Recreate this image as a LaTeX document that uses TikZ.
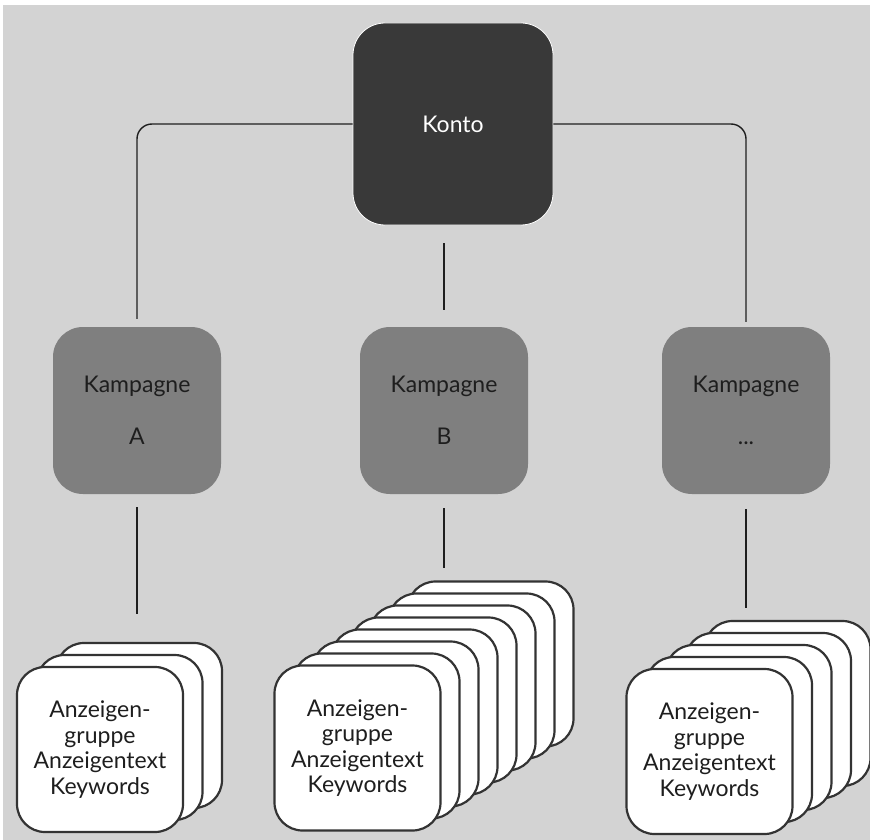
\documentclass[tikz,border=0pt]{standalone}
\usepackage{fontspec}
\setmainfont{Lato}
\usepackage{tikz}
\definecolor{backgrey}{HTML}{D3D3D3}
\definecolor{kontogrey}{HTML}{393939}
\definecolor{kampgrey}{HTML}{7F7F7F}
\definecolor{inkgrey}{HTML}{1E1E1E}
\definecolor{cardline}{HTML}{333333}

\begin{document}
\begin{tikzpicture}
      [ x = 1pt, y = -1pt
      , every node/.style =
        { font = \fontsize{23}{25.5}\selectfont }
      , konto/.style =
        { rectangle, rounded corners = 32pt, fill = kontogrey, draw = white
        , line width = .8pt, minimum width = 200pt, minimum height = 202pt
        , text = white }
      , kampagne/.style =
        { rectangle, rounded corners = 30pt, fill = kampgrey
        , minimum width = 168pt, minimum height = 167pt
        , text = inkgrey, align = center }
      , card/.style =
        { rectangle, rounded corners = 28pt, fill = white, draw = cardline
        , line width = 2.2pt, minimum width = 166pt, minimum height = 165pt
        , text = inkgrey, align = center }
      , link/.style =
        { draw = inkgrey, line width = 1.4pt, rounded corners = 15pt }
      ]
      \useasboundingbox (0, 0) rectangle (870, 840);
      \fill [backgrey] (3, 5) rectangle (870, 840);
      \node [konto] (konto) at (453, 124) {Konto};
      \node [kampagne] (kampA) at (137, 410.5) {Kampagne\\[27pt]A};
      \node [kampagne] (kampB) at (444, 410.5) {Kampagne\\[27pt]B};
      \node [kampagne] (kampC) at (746, 410.5) {Kampagne\\[27pt]...};
      \node [card] (a3) at (139, 725.5) {};
      \node [card] (a2) at (119.5, 737.5) {};
      \node [card] (a1) at (100, 749.5) {Anzeigen-\\gruppe\\Anzeigentext\\Keywords};
      \node [card] (b8) at (490.5, 664) {};
      \node [card] (b7) at (471.5, 676) {};
      \node [card] (b6) at (452.5, 688) {};
      \node [card] (b5) at (433.5, 700) {};
      \node [card] (b4) at (414.5, 712) {};
      \node [card] (b3) at (395.5, 724) {};
      \node [card] (b2) at (376.5, 736) {};
      \node [card] (b1) at (357.5, 748) {Anzeigen-\\gruppe\\Anzeigentext\\Keywords};
      \node [card] (c5) at (787.5, 703.5) {};
      \node [card] (c4) at (768, 715.5) {};
      \node [card] (c3) at (748.5, 727.5) {};
      \node [card] (c2) at (729, 739.5) {};
      \node [card] (c1) at (709.5, 751.5) {Anzeigen-\\gruppe\\Anzeigentext\\Keywords};
      \draw [link, shorten >=8pt] (konto.west) -| (kampA.north);
      \draw [link, shorten >=5pt] (konto.east) -| (kampC.north);
      \draw [link, shorten <=18pt, shorten >=17pt] (kampB.north |- konto.south) to (kampB.north);
      \draw [link, shorten <=13pt, shorten >=28pt] (kampA.south) to (kampA.south |- a3.north);
      \draw [link, shorten <=14pt, shorten >=12pt] (kampB.south) to (kampB.south |- b8.north);
      \draw [link, shorten <=15pt, shorten >=12pt] (kampC.south) to (kampC.south |- c5.north);
    \end{tikzpicture}
\end{document}
